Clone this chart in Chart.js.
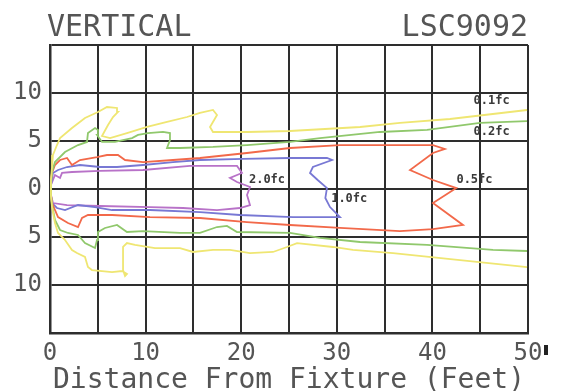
<!DOCTYPE html>
<html>
<head>
<meta charset="utf-8">
<script src="https://cdn.jsdelivr.net/npm/chart.js@4.4.1/dist/chart.umd.min.js"></script>
<style>
  html, body { margin: 0; padding: 0; background: #fff; }
  #wrap { width: 561px; height: 391px; }
</style>
</head>
<body>
<div id="wrap"><canvas id="chart" width="561" height="391"></canvas></div>
<script>
// isofootcandle contours, [distance ft, offset ft]
const yellowLine = [
  [49.9, 8.23], [41.84, 7.29], [36.61, 6.88], [32.43, 6.46], [25.1, 6.04], [20.61, 5.94],
  [17.05, 5.94], [16.74, 6.46], [17.47, 7.71], [17.05, 8.23], [15.69, 7.92], [14.33, 7.5],
  [12.24, 6.98], [10.15, 6.46], [8.05, 5.83], [6.28, 5.31], [5.44, 5.52], [6.07, 6.67],
  [6.59, 7.5], [7.11, 8.02], [7.01, 8.44], [5.96, 8.54], [5.02, 8.02], [3.66, 7.4],
  [2.3, 6.35], [1.05, 5.31], [0.73, 4.58], [0.31, 3.54], [0.21, 2.29], [0.1, 0.94],
  [0.1, -0.63], [0.21, -1.88], [0.52, -3.54], [0.84, -4.58], [1.57, -5.31], [2.3, -6.35],
  [2.82, -6.67], [3.66, -7.08], [3.97, -8.13], [4.39, -8.44], [6.49, -8.65], [7.53, -8.54],
  [8.05, -8.85], [7.85, -9.06], [7.64, -8.44], [7.64, -6.04], [8.05, -5.63], [8.89, -5.83],
  [10.98, -6.15], [13.6, -6.15], [14.96, -6.56], [17.05, -6.35], [18.83, -6.35], [20.92, -6.67],
  [23.33, -6.56], [24.79, -6.04], [25.84, -5.63], [29.6, -6.04], [31.69, -6.35], [35.88, -6.67],
  [42.89, -7.4], [49.9, -8.13]
];

const greenLine = [
  [49.9, 7.08], [44.98, 6.88], [39.44, 6.15], [34.52, 5.94], [28.24, 5.31], [25.1, 4.9],
  [20.61, 4.58], [17.05, 4.38], [13.6, 4.27], [12.24, 4.27], [12.55, 5.1], [12.55, 5.83],
  [11.82, 5.94], [10.25, 5.83], [9.21, 5.63], [8.58, 5.31], [6.8, 4.9], [5.44, 4.9],
  [4.92, 5.63], [5.02, 6.15], [4.71, 6.35], [3.97, 5.83], [3.87, 4.9], [2.93, 4.58],
  [1.57, 3.85], [0.52, 2.81], [0.21, 1.77], [0.1, 0.42], [0.1, -0.63], [0.21, -1.67],
  [0.52, -3.23], [1.05, -4.27], [1.88, -4.58], [2.93, -4.79], [3.66, -5.63], [4.71, -6.15],
  [4.92, -5.31], [5.02, -4.48], [5.75, -4.06], [7.01, -3.75], [8.05, -4.48], [9.73, -4.38],
  [13.6, -4.58], [15.69, -4.58], [17.47, -3.96], [18.51, -3.85], [19.56, -4.48], [25.1, -4.58],
  [28.24, -5.1], [32.43, -5.52], [39.44, -5.83], [46.34, -6.35], [49.9, -6.46]
];

const redLine = [
  [0.1, 0.94], [0.21, 1.67], [0.52, 2.5], [1.05, 3.02], [1.78, 3.23], [2.3, 2.5],
  [3.14, 3.02], [4.92, 3.33], [5.96, 3.54], [7.11, 3.54], [7.85, 3.02], [9.73, 2.81],
  [12.87, 3.02], [15.69, 3.23], [20.6, 3.75], [25.1, 4.27], [30.33, 4.58], [36.6, 4.58],
  [40.06, 4.58], [41.3, 4.17], [40.06, 3.75], [37.66, 1.98], [40.06, 0.94], [42.5, 0.1],
  [40.06, -1.46], [43.2, -3.75], [40.06, -4.17], [36.6, -4.38], [30.33, -4.06], [25.1, -3.75],
  [20.6, -3.44], [15.69, -3.02], [10.46, -2.92], [6.49, -2.71], [3.97, -2.71], [3.35, -3.02],
  [2.93, -3.96], [1.88, -3.54], [0.84, -2.92], [0.21, -1.46], [0.1, -0.63]
];

const blueLine = [
  [0.1, 0.42], [0.31, 1.67], [0.84, 1.98], [1.78, 2.29], [3.14, 2.5], [5.23, 2.29],
  [7.01, 2.29], [9.73, 2.5], [12.87, 2.81], [15.69, 3.02], [20.19, 3.13], [25.1, 3.23],
  [28.97, 3.23], [29.5, 3.02], [27.5, 2.29], [27.2, 1.67], [28.0, 0.94], [28.97, 0.1],
  [28.8, -0.94], [29.29, -1.88], [30.33, -2.92], [25.42, -2.92], [19.87, -2.71], [15.69, -2.4],
  [10.46, -2.19], [6.49, -2.19], [4.71, -1.88], [2.93, -1.67], [1.57, -2.19], [0.73, -1.98],
  [0.21, -1.46], [0.1, -0.63]
];

const purpleLine = [
  [0.1, 0.42], [0.52, 1.46], [1.05, 1.15], [1.26, 1.67], [2.3, 1.77], [5.23, 1.88],
  [9.73, 1.98], [14.64, 2.4], [19.56, 2.4], [20.08, 1.67], [18.83, 1.15], [19.56, 0.73],
  [20.92, 0.21], [20.61, -0.63], [20.92, -1.67], [19.87, -1.98], [17.47, -2.19], [13.91, -1.98],
  [10.46, -1.88], [5.23, -1.77], [1.78, -1.67], [0.31, -1.46], [0.1, -0.63]
];

const contourColors = ['#efe672', '#90c86c', '#f2694a', '#7878d4', '#b872c8'];
const contourLines = [yellowLine, greenLine, redLine, blueLine, purpleLine];

const contourLabels = ['0.1fc', '0.2fc', '0.5fc', '1.0fc', '2.0fc'];
const labelSpots = [[46.2, 9.2], [46.2, 6.0], [44.4, 0.9], [31.3, -1.0], [22.7, 0.9]];

const xTicks = [0, 10, 20, 30, 40, 50];
const yTicks = [10, 5, 0, -5, -10];

const headerLeft = 'VERTICAL';
const headerRight = 'LSC9092';
const xAxisTitle = 'Distance From Fixture (Feet)';

const textColor = '#555';
const gridColor = '#2e2e2e';
const mono = '"DejaVu Sans Mono", monospace';

// header text and contour labels
const annotate = {
  id: 'annotate',
  afterDatasetsDraw(chart) {
    const ctx = chart.ctx;
    const xs = chart.scales.x, ys = chart.scales.y;
    ctx.save();
    ctx.font = 'bold 12px ' + mono;
    ctx.fillStyle = '#3a3a3a';
    ctx.textAlign = 'center';
    ctx.textBaseline = 'middle';
    contourLabels.forEach((t, i) => {
      ctx.fillText(t, xs.getPixelForValue(labelSpots[i][0]), ys.getPixelForValue(labelSpots[i][1]));
    });
    ctx.restore();
  },
  afterDraw(chart) {
    const ctx = chart.ctx;
    const area = chart.chartArea;
    ctx.save();
    ctx.font = '30px ' + mono;
    ctx.fillStyle = textColor;
    ctx.textBaseline = 'alphabetic';
    ctx.textAlign = 'left';
    ctx.fillText(headerLeft, area.left - 3, 36);
    ctx.textAlign = 'right';
    ctx.fillText(headerRight, area.right, 36);
    // small marker right of the last tick label
    ctx.fillStyle = '#222';
    ctx.fillRect(area.right + 16, area.bottom + 12, 4, 10);
    ctx.restore();
  }
};

new Chart(document.getElementById('chart'), {
  type: 'scatter',
  data: {
    datasets: contourLines.map((pts, i) => ({
      label: contourLabels[i],
      data: pts.map(p => ({ x: p[0], y: p[1] })),
      showLine: true,
      borderColor: contourColors[i],
      borderWidth: 1.8,
      pointRadius: 0,
      tension: 0,
      fill: false
    }))
  },
  options: {
    responsive: false,
    animation: false,
    devicePixelRatio: 1,
    layout: { padding: { top: 45, right: 33, left: 0, bottom: 0 } },
    plugins: {
      legend: { display: false },
      tooltip: { enabled: false }
    },
    scales: {
      x: {
        type: 'linear',
        min: 0,
        max: 50,
        afterFit(scale) { scale.height = 58; },
        border: { display: true, color: gridColor, width: 2.5 },
        grid: { color: gridColor, lineWidth: 2, drawTicks: false },
        ticks: {
          stepSize: 5,
          padding: 6,
          maxRotation: 0,
          autoSkip: false,
          color: textColor,
          font: { family: mono, size: 24 },
          callback: v => xTicks.includes(v) ? String(v) : ''
        },
        title: {
          display: true,
          text: xAxisTitle,
          color: textColor,
          font: { family: mono, size: 28, lineHeight: 0.72 },
          padding: { top: 0, bottom: 0 }
        }
      },
      y: {
        type: 'linear',
        min: -15,
        max: 15,
        afterFit(scale) { scale.width = 50; },
        border: { display: true, color: gridColor, width: 2.5 },
        grid: { color: gridColor, lineWidth: 2, drawTicks: false },
        ticks: {
          stepSize: 5,
          padding: 8,
          autoSkip: false,
          color: textColor,
          font: { family: mono, size: 24 },
          callback: v => yTicks.includes(v) ? String(Math.abs(v)) : ''
        }
      }
    }
  },
  plugins: [annotate]
});
</script>
</body>
</html>
